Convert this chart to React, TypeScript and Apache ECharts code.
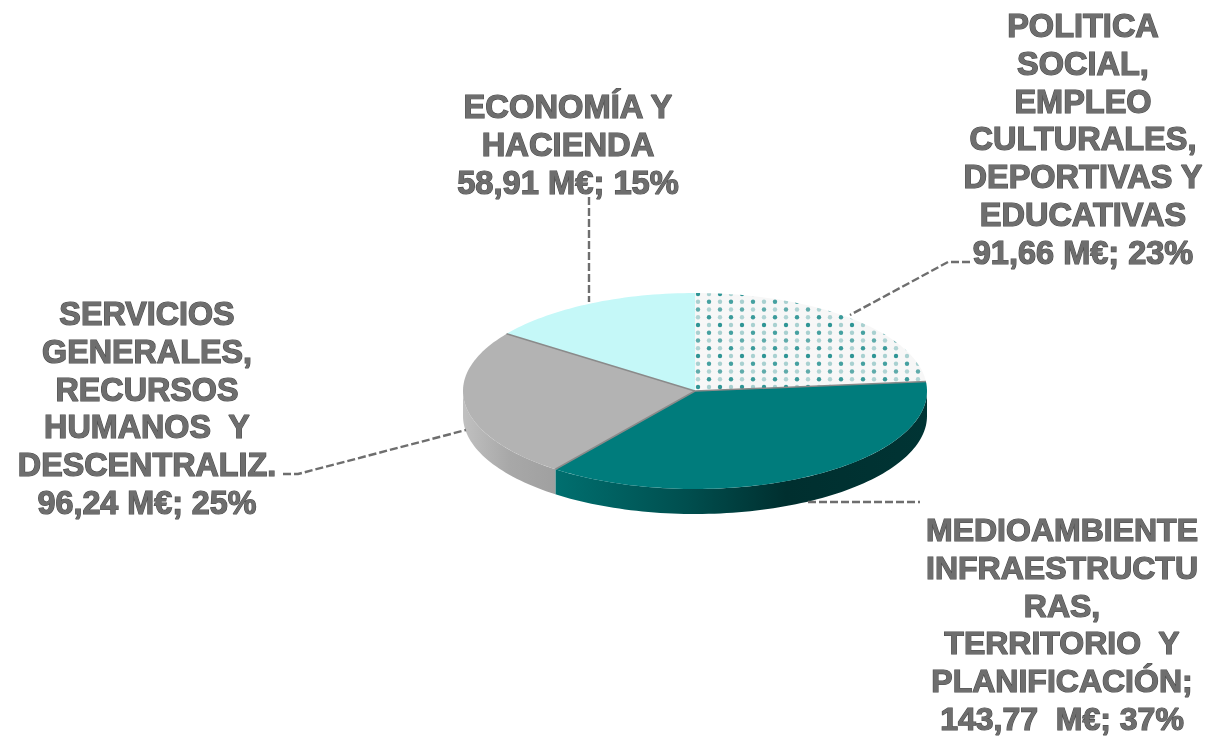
import React, { useEffect, useRef } from "react";
import * as echarts from "echarts";

const sliceNames = ["POLITICA SOCIAL", "MEDIOAMBIENTE", "SERVICIOS GENERALES", "ECONOMÍA Y HACIENDA"];
const sliceValues = [91.66, 143.77, 96.24, 58.91];
const sliceTopColors = ["pattern", "#007c7c", "#b3b3b3", "#c5f8f8"];
const sliceSideStops = [
  [["#f4f4f4", 0], ["#f4f4f4", 1]],
  [["#006f6f", 0], ["#004f4f", 0.35], ["#002f2f", 0.62], ["#003434", 1]],
  [["#c0c0c0", 0], ["#a8a8a8", 0.5], ["#a0a0a0", 1]],
  [["#c5f8f8", 0], ["#c5f8f8", 1]],
];
const labelTexts = [
  "POLITICA\nSOCIAL,\nEMPLEO\nCULTURALES,\nDEPORTIVAS Y\nEDUCATIVAS\n91,66 M€; 23%",
  "MEDIOAMBIENTE\nINFRAESTRUCTU\nRAS,\nTERRITORIO  Y\nPLANIFICACIÓN;\n143,77  M€; 37%",
  "SERVICIOS\nGENERALES,\nRECURSOS\nHUMANOS  Y\nDESCENTRALIZ.\n96,24 M€; 25%",
  "ECONOMÍA Y\nHACIENDA\n58,91 M€; 15%",
];
const labelBoxes = [
  { x: 1083, y: 7, size: 32.5 },
  { x: 1062, y: 511, size: 32 },
  { x: 147, y: 295, size: 32.3 },
  { x: 568, y: 88, size: 32.7 },
];
const leaderLines = [
  [[970, 262], [948, 262], [850, 315]],
  [[808, 502], [920, 502]],
  [[283, 474], [298, 474], [466, 430]],
  [[589, 197], [589, 302]],
];

const CX = 695;
const CY = 391;
const RX = 232;
const RY = 98;
const DEPTH = 25;

function makePattern() {
  const c = document.createElement("canvas");
  c.width = 22;
  c.height = 31;
  const g = c.getContext("2d")!;
  g.fillStyle = "#f7f7f7";
  g.fillRect(0, 0, 22, 31);
  const dots = [
    [16, 15, "#2f9595", 2.2],
    [5, 15, "#a8d0d0", 2.2],
    [16, 22.75, "#a8d0d0", 2.2],
    [5, 22.75, "#45a0a0", 2.2],
    [16, 30.5, "#5fabab", 2.2],
    [5, 30.5, "#b0d4d4", 2.2],
    [16, 7.25, "#b0d4d4", 2.2],
    [5, 7.25, "#3a9a9a", 2.2],
  ] as const;
  g.filter = "blur(0.7px)";
  for (const [x, y, col, r] of dots) {
    for (const dy of [-31, 0, 31]) {
      g.fillStyle = col;
      g.beginPath();
      g.arc(x, y + dy, r, 0, Math.PI * 2);
      g.fill();
    }
  }
  return c;
}

const total = sliceValues.reduce((a, b) => a + b, 0);
function sliceRange(i: number) {
  let before = 0;
  for (let k = 0; k < i; k++) before += sliceValues[k];
  const a0 = (before / total) * Math.PI * 2;
  return [a0, a0 + (sliceValues[i] / total) * Math.PI * 2];
}
function pt(a: number, dy = 0): number[] {
  return [CX + Math.sin(a) * RX, CY - Math.cos(a) * RY + dy];
}
function arcPoints(a0: number, a1: number, dy = 0) {
  const n = Math.max(2, Math.ceil(((a1 - a0) / (Math.PI * 2)) * 240));
  const out: number[][] = [];
  for (let k = 0; k <= n; k++) out.push(pt(a0 + ((a1 - a0) * k) / n, dy));
  return out;
}

export default function App() {
  const ref = useRef<HTMLDivElement>(null);
  useEffect(() => {
    document.body.style.margin = "0";
    document.body.style.background = "#fff";
    const chart = echarts.init(ref.current!, null, { renderer: "svg" });
    const pattern = makePattern();
    const renderItem = (_: any, api: any) => {
      const i = api.value(1) as number;
      const [a0, a1] = sliceRange(i);
      const children: any[] = [];
      const s0 = Math.max(a0, Math.PI / 2);
      const s1 = Math.min(a1, (Math.PI * 3) / 2);
      if (s1 > s0) {
        const stops = sliceSideStops[i].map(([color, offset]) => ({ offset, color }));
        children.push({
          type: "polygon",
          z2: 1,
          shape: { points: [...arcPoints(s0, s1), ...arcPoints(s0, s1, DEPTH).reverse()] },
          style: { fill: new echarts.graphic.LinearGradient(0, 0, 1, 0, stops as any), stroke: "none" },
        });
      }
      const topFill = sliceTopColors[i] === "pattern" ? { image: pattern, repeat: "repeat" } : sliceTopColors[i];
      children.push({
        type: "polygon",
        z2: 2,
        shape: { points: [[CX, CY], ...arcPoints(a0, a1)] },
        style: { fill: topFill, stroke: "none" },
      });
      if (i > 0) {
        const e = pt(a0);
        children.push({
          type: "line",
          z2: 3,
          shape: { x1: CX, y1: CY, x2: e[0], y2: e[1] },
          style: { stroke: "#8a8a8a", lineWidth: 1.5 },
        });
      }
      return { type: "group", children };
    };
    chart.setOption({
      animation: false,
      backgroundColor: "#ffffff",
      tooltip: { show: false },
      graphic: [
        ...leaderLines.map((pts) => ({
          type: "polyline",
          z: 5,
          shape: { points: pts },
          style: { stroke: "#6e6e6e", lineWidth: 2.4, lineDash: [8, 3], fill: "none" },
        })),
        ...labelTexts.map((text, i) => ({
          type: "text",
          z: 5,
          x: labelBoxes[i].x,
          y: labelBoxes[i].y,
          style: {
            text,
            fill: "#6e6e6e",
            stroke: "#4c4c4c",
            lineWidth: 1.2,
            fontFamily: "Liberation Sans, Arial, sans-serif",
            fontWeight: "bold",
            fontSize: labelBoxes[i].size,
            lineHeight: 37.8,
            align: "center",
            verticalAlign: "top",
          },
        })),
      ],
      series: [
        {
          type: "custom",
          coordinateSystem: "none",
          z: 3,
          silent: true,
          renderItem,
          data: sliceValues.map((v, i) => ({ name: sliceNames[i], value: [v, i] })),
        },
      ],
    });
    return () => chart.dispose();
  }, []);
  return <div ref={ref} style={{ width: 1209, height: 736, filter: "blur(0.7px)" }} />;
}
